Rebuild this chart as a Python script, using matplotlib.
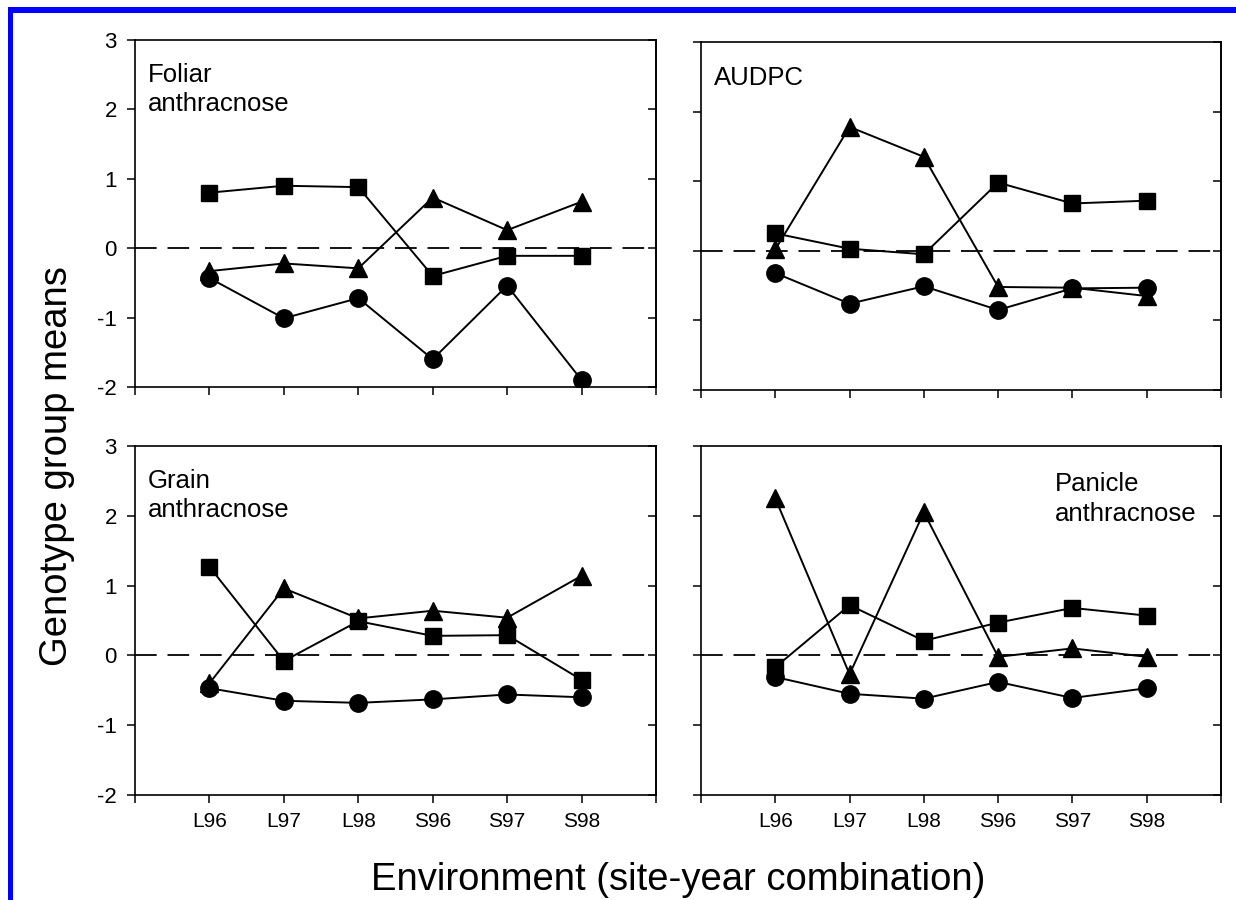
import numpy as np
import matplotlib
matplotlib.use('Agg')
import matplotlib.pyplot as plt
from matplotlib.patches import Rectangle

plt.rcParams['font.family'] = ['Liberation Sans', 'DejaVu Sans']

envs = ['L96', 'L97', 'L98', 'S96', 'S97', 'S98']

# genotype group means per trait: squares, triangles, circles
foliar_sq  = [0.80, 0.90, 0.88, -0.40, -0.11, -0.11]
foliar_tri = [-0.33, -0.22, -0.29, 0.73, 0.26, 0.67]
foliar_cir = [-0.43, -1.01, -0.72, -1.60, -0.54, -1.90]

audpc_sq  = [0.25, 0.03, -0.05, 0.98, 0.68, 0.72]
audpc_tri = [0.02, 1.78, 1.35, -0.52, -0.53, -0.65]
audpc_cir = [-0.32, -0.76, -0.51, -0.85, -0.54, -0.53]

grain_sq  = [1.27, -0.08, 0.49, 0.28, 0.29, -0.35]
grain_tri = [-0.40, 0.96, 0.53, 0.64, 0.54, 1.14]
grain_cir = [-0.47, -0.65, -0.68, -0.63, -0.56, -0.60]

panicle_sq  = [-0.17, 0.72, 0.21, 0.47, 0.68, 0.57]
panicle_tri = [2.25, -0.27, 2.05, -0.02, 0.10, -0.02]
panicle_cir = [-0.31, -0.55, -0.62, -0.38, -0.61, -0.47]

W, H = 1236, 900
fig = plt.figure(figsize=(W / 100, H / 100), dpi=100)

# panel boxes in pixels: left, top, right, bottom
boxes = [(135, 40, 656, 387), (701, 42, 1221, 390),
         (135, 446, 656, 795), (701, 446, 1221, 795)]
panels = [
    ('Foliar\nanthracnose', foliar_sq, foliar_tri, foliar_cir, (0.025, 0.935)),
    ('AUDPC', audpc_sq, audpc_tri, audpc_cir, (0.025, 0.93)),
    ('Grain\nanthracnose', grain_sq, grain_tri, grain_cir, (0.025, 0.935)),
    ('Panicle\nanthracnose', panicle_sq, panicle_tri, panicle_cir, (0.68, 0.925)),
]

x = np.arange(1, len(envs) + 1)
yt = [-2, -1, 0, 1, 2, 3]

for i, ((l, t, r, b), (title, sq, tri, cir, tpos)) in enumerate(zip(boxes, panels)):
    ax = fig.add_axes([l / W, 1 - b / H, (r - l) / W, (b - t) / H])
    ax.axhline(0, color='black', lw=1.3, ls=(0, (12, 6)), zorder=1)
    kw = dict(color='black', lw=1.4, zorder=3)
    ax.plot(x, sq, marker='s', ms=11.5, **kw)
    ax.plot(x, tri, marker='^', ms=13, **kw)
    ax.plot(x, cir, marker='o', ms=12.5, **kw)
    ax.set_xlim(0, 7)
    ax.set_ylim(-2, 3)
    ax.set_xticks(range(8))
    ax.set_yticks(yt)
    ax.set_yticklabels([str(v) for v in yt])
    if i >= 2:
        ax.set_xticklabels([''] + envs + [''])
    else:
        ax.set_xticklabels([''] * 8)
    ax.tick_params(axis='x', direction='out', length=6, width=1.1, labelsize=15, pad=6)
    ax.tick_params(axis='y', direction='out', length=6, width=1.1, labelsize=16, pad=7)
    if i % 2 == 1:
        ax.tick_params(axis='y', labelleft=False)
    sec = ax.secondary_yaxis('right')
    sec.set_yticks(yt)
    sec.tick_params(direction='in', length=6, width=1.1, labelright=False)
    for s in list(ax.spines.values()) + list(sec.spines.values()):
        s.set_linewidth(1.2)
    ax.text(tpos[0], tpos[1], title, transform=ax.transAxes, ha='left', va='top',
            fontsize=18.5, linespacing=1.3)

fig.text(678 / W, 1 - 890 / H, 'Environment (site-year combination)',
         ha='center', va='baseline', fontsize=27.5)
fig.text(57 / W, 1 - 466 / H, 'Genotype group means', rotation=90,
         ha='center', va='center', fontsize=27.5)

# blue frame along top and left edge
fig.add_artist(Rectangle((8 / W, 1 - 13 / H), 1 - 8 / W, 6 / H,
                         transform=fig.transFigure, color='#0000ff', lw=0))
fig.add_artist(Rectangle((8 / W, 0), 5 / W, 1 - 7 / H,
                         transform=fig.transFigure, color='#0000ff', lw=0))

fig.savefig('out.png', dpi=100)
